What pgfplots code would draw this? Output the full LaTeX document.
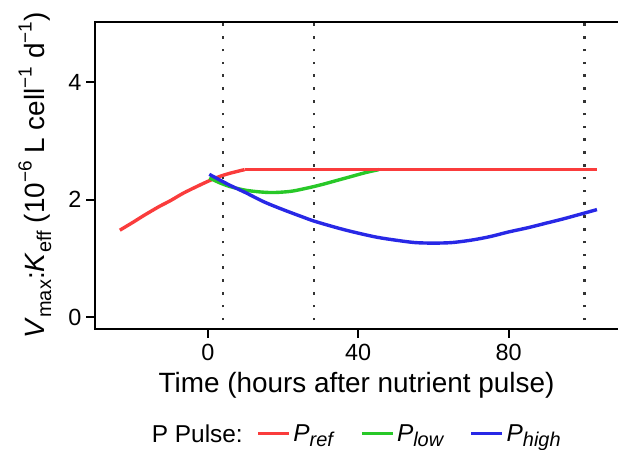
\documentclass[border=0pt]{standalone}
\usepackage{pgfplots}
\pgfplotsset{compat=1.18}
\usepackage{fontspec}
\setmainfont{Liberation Sans}
\definecolor{cred}{RGB}{250,60,60}
\definecolor{cgreen}{RGB}{40,200,40}
\definecolor{cblue}{RGB}{40,40,230}
\newcommand{\lsub}[1]{\raisebox{-0.22em}{\fontsize{20}{22}\selectfont\textit{#1}}}
\newcommand{\ysub}[1]{\raisebox{-0.22em}{\fontsize{20}{22}\selectfont #1}}
\newcommand{\ysup}[1]{\raisebox{0.48em}{\fontsize{19}{21}\selectfont #1}}
\begin{document}
\begin{tikzpicture}[x=1bp,y=1bp]
\path[use as bounding box] (0,0) rectangle (618,450);
\begin{axis}[
  at={(95bp,121bp)}, anchor=south west,
  width=523bp, height=307bp, scale only axis,
  xmin=-30, xmax=109.1, ymin=-0.2, ymax=5.02,
  separate axis lines,
  x axis line style={line width=1.8bp, black},
  y axis line style={draw=none},
  xtick={0,40,80}, ytick={0,2,4},
  xtick pos=bottom, ytick pos=left,
  tick align=outside, major tick length=9bp,
  tick style={line width=1.8bp, black},
  /pgf/number format/assume math mode=true,
  ticklabel style={font=\fontsize{23.5}{26}\selectfont},
  xticklabel style={yshift=-3bp},
  yticklabel style={xshift=-1bp},
  xlabel={Time (hours after nutrient pulse)},
  xlabel style={font=\fontsize{28}{32}\selectfont, at={(axis description cs:0.5,0)}, anchor=base, yshift=-63.6bp},
  ylabel={\textit{V}\ysub{max}:\textit{K}\ysub{eff} (10\ysup{−6} L cell\ysup{−1} d\ysup{−1})},
  ylabel style={font=\fontsize{28}{32}\selectfont, at={(axis description cs:-0.115,0.5)}, anchor=center},
  legend style={draw=none, fill=none, inner sep=0pt, outer sep=0pt, at={(axis description cs:0.3087,-0.34)}, anchor=west,
    font=\fontsize{24.5}{27}\selectfont, /tikz/every even column/.append style={column sep=23bp},
    nodes={inner sep=2.5bp}},
  legend columns=-1,
  legend image code/.code={\draw[#1] (0bp,0bp) -- (31bp,0bp);},
  clip=false,
]
\addplot[cred, line width=3.4bp, line join=round, smooth] coordinates {
(-23.4,1.48) (-20,1.61) (-17,1.73) (-13,1.88) (-10,1.98) (-6.5,2.11) (-3,2.22) (0,2.31) (3,2.39) (6,2.45) (9.8,2.51)};
\addlegendentry{\textit{P}\lsub{ref}}
\addplot[cgreen, line width=3.4bp, line join=round, smooth] coordinates {
(0.4,2.37) (3,2.29) (6,2.22) (10,2.16) (14,2.13) (17.5,2.12) (22,2.14) (26,2.19) (30,2.25) (34,2.32) (38,2.39) (42,2.46) (45.5,2.51)};
\addlegendentry{\textit{P}\lsub{low}}
\addplot[cblue, line width=3.4bp, line join=round, smooth] coordinates {
(0.4,2.43) (3,2.34) (6,2.24) (10,2.12) (15,1.96) (20,1.83) (25,1.71) (28.5,1.63) (35,1.51) (40,1.43) (45,1.36) (50,1.31) (55,1.27) (60,1.26) (65,1.27) (70,1.31) (75,1.37) (80,1.45) (85,1.52) (90,1.60) (95,1.68) (103.5,1.83)};
\addlegendentry{\textit{P}\lsub{high}}
\addplot[cred, line width=3.4bp, forget plot] coordinates {(9.8,2.51) (45.5,2.51) (103.5,2.51)};
\addplot[black!80, line width=2.6bp, dash pattern=on 2.6bp off 10.2bp, forget plot] coordinates {(4,-0.05) (4,5.02)};
\addplot[black!80, line width=2.6bp, dash pattern=on 2.6bp off 10.2bp, forget plot] coordinates {(28.2,-0.05) (28.2,5.02)};
\addplot[black!80, line width=2.6bp, dash pattern=on 2.6bp off 10.2bp, forget plot] coordinates {(100.2,-0.05) (100.2,5.02)};
\draw[line width=1.8bp, black, line cap=rect] (rel axis cs:0,0) -- (rel axis cs:0,1);
\end{axis}
\node[anchor=base east, inner sep=0pt, font=\fontsize{24.5}{27}\selectfont] at (243,7.5) {P Pulse:};
\end{tikzpicture}
\end{document}
